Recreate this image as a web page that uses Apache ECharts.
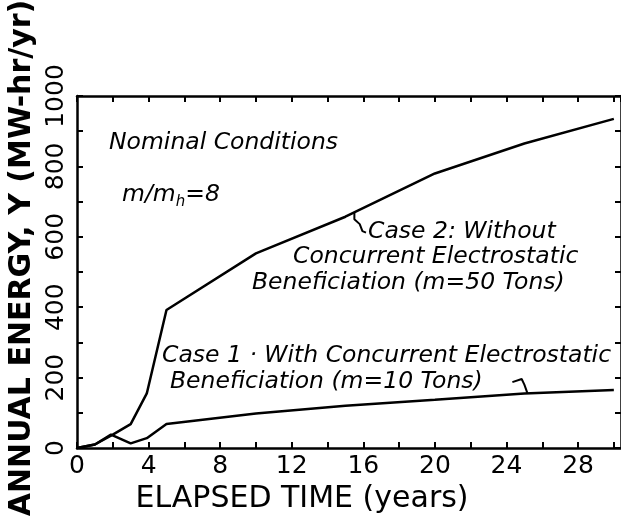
<!DOCTYPE html>
<html>
<head>
<meta charset="utf-8">
<script src="https://cdn.jsdelivr.net/npm/echarts@6/dist/echarts.min.js"></script>
<style>
  html, body { margin: 0; padding: 0; background: #fff; }
  #chart { width: 621px; height: 522px; }
</style>
</head>
<body>
<div id="chart"></div>
<script>
// Elapsed time (years) and annual energy (MW-hr/yr) for the two cases
const case2Years  = [0, 1, 2, 3, 3.9, 5, 10, 15, 20, 25, 30];
const case2Energy = [0, 10, 38, 68, 155, 392, 553, 657, 780, 865, 935];

const case1Years  = [0, 1, 1.9, 3, 3.9, 5, 10, 15, 20, 25, 30];
const case1Energy = [0, 10, 38, 13, 28, 68, 98, 120, 137, 155, 165];

// Leader hooks tying each caption to its curve (data coordinates)
const leader2Years  = [15.5, 15.5, 15.8, 15.95, 16.15];
const leader2Energy = [668, 650, 636, 616, 612];
const leader1Years  = [24.33, 24.85, 25.0, 25.17];
const leader1Energy = [187, 196, 180, 156];

const xTickLabels = [0, 4, 8, 12, 16, 20, 24, 28];
const yTickLabels = [0, 200, 400, 600, 800, 1000];

const FONT = '"DejaVu Sans", sans-serif';
const NOTE = 'italic 23.5px ' + FONT;

function pairs(xs, ys) { return xs.map((x, i) => [x, ys[i]]); }

const chart = echarts.init(document.getElementById('chart'), null, { renderer: 'canvas' });

const inkLine = { color: '#000', width: 2.5 };
const tick = { show: true, inside: true, length: 6, lineStyle: { color: '#000', width: 2 } };

function lineSeries(name, xs, ys, width) {
  return {
    name, type: 'line', data: pairs(xs, ys), symbol: 'none', smooth: false,
    lineStyle: { color: '#000', width: width }, silent: true, animation: false,
    xAxisIndex: 0, yAxisIndex: 0
  };
}

function note(text, x, y) {
  return { type: 'text', x, y, style: { text, fill: '#000', font: NOTE, verticalAlign: 'middle' } };
}

chart.setOption({
  animation: false,
  backgroundColor: '#fff',
  grid: { left: 77, right: -2, top: 96, bottom: 74, containLabel: false },
  xAxis: [
    {
      type: 'value', position: 'bottom', min: 0, max: 30.4, interval: 2,
      axisLine: { show: true, onZero: false, lineStyle: inkLine },
      axisTick: tick, splitLine: { show: false },
      axisLabel: {
        show: true, margin: 6, color: '#000', fontFamily: FONT, fontSize: 25,
        formatter: v => (xTickLabels.indexOf(v) >= 0 ? String(v) : ''),
        showMaxLabel: false
      }
    },
    {
      type: 'value', position: 'top', min: 0, max: 30.4, interval: 2,
      axisLine: { show: true, onZero: false, lineStyle: inkLine },
      axisTick: tick, splitLine: { show: false }, axisLabel: { show: false }
    }
  ],
  yAxis: [
    {
      type: 'value', position: 'left', min: 0, max: 1000, interval: 100,
      axisLine: { show: true, onZero: false, lineStyle: inkLine },
      axisTick: tick, splitLine: { show: false },
      axisLabel: {
        show: true, rotate: 90, margin: 8, color: '#000', fontFamily: FONT, fontSize: 25,
        formatter: v => (yTickLabels.indexOf(v) >= 0 ? String(v) : '')
      }
    },
    {
      type: 'value', position: 'right', min: 0, max: 1000, interval: 100,
      axisLine: { show: true, onZero: false, lineStyle: inkLine },
      axisTick: tick, splitLine: { show: false }, axisLabel: { show: false }
    }
  ],
  series: [
    lineSeries('Case 2', case2Years, case2Energy, 2.5),
    lineSeries('Case 1', case1Years, case1Energy, 2.5),
    lineSeries('Case 2 leader', leader2Years, leader2Energy, 2),
    lineSeries('Case 1 leader', leader1Years, leader1Energy, 2)
  ],
  graphic: [
    {
      type: 'text', x: 22, y: 258, rotation: Math.PI / 2,
      style: {
        text: 'ANNUAL ENERGY, Y (MW-hr/yr)', fill: '#000',
        font: 'bold 30px ' + FONT, align: 'center', verticalAlign: 'middle'
      }
    },
    {
      type: 'text', x: 302, y: 499,
      style: {
        text: 'ELAPSED TIME (years)', fill: '#000',
        font: '30px ' + FONT, align: 'center', verticalAlign: 'middle'
      }
    },
    note('Nominal Conditions', 109, 143),
    {
      type: 'text', x: 122, y: 195,
      style: {
        text: 'm/m{sub|h}=8', fill: '#000', font: NOTE, verticalAlign: 'middle',
        rich: { sub: { font: 'italic 15px ' + FONT, fill: '#000', padding: [15, 0, 0, 0] } }
      }
    },
    note('Case 2: Without', 368, 232),
    note('Concurrent Electrostatic', 293, 257),
    note('Beneficiation (m=50 Tons)', 252, 283),
    note('Case 1 · With Concurrent Electrostatic', 162, 356),
    note('Beneficiation (m=10 Tons)', 170, 382)
  ]
});
</script>
</body>
</html>
